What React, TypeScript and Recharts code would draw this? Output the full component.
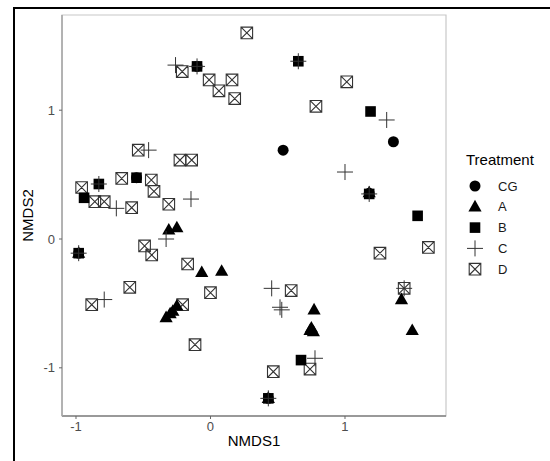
import * as React from "react";
import {
  ScatterChart,
  Scatter,
  XAxis,
  YAxis,
  ReferenceArea,
} from "recharts";

type Pt = { x: number; y: number };

// NMDS scores, one array per treatment
const cgPoints: Pt[] = [
  { x: 0.54, y: 0.69 },
  { x: 1.36, y: 0.755 },
  { x: -0.1, y: 1.34 },
  { x: -0.55, y: 0.476 },
  { x: -0.98, y: -0.11 },
  { x: 0.43, y: -1.237 },
  { x: 1.18, y: 0.355 },
];

const aPoints: Pt[] = [
  { x: -0.31, y: 0.07 },
  { x: -0.25, y: 0.088 },
  { x: -0.065, y: -0.26 },
  { x: 0.083, y: -0.25 },
  { x: -0.33, y: -0.61 },
  { x: -0.3, y: -0.58 },
  { x: -0.28, y: -0.56 },
  { x: -0.25, y: -0.52 },
  { x: 0.77, y: -0.55 },
  { x: 0.74, y: -0.71 },
  { x: 0.75, y: -0.69 },
  { x: 0.765, y: -0.72 },
  { x: 1.42, y: -0.47 },
  { x: 1.5, y: -0.71 },
  { x: -0.98, y: -0.11 },
  { x: 0.43, y: -1.237 },
  { x: 1.18, y: 0.36 },
];

const bPoints: Pt[] = [
  { x: -0.94, y: 0.32 },
  { x: -0.83, y: 0.427 },
  { x: 1.19, y: 0.99 },
  { x: 1.54, y: 0.18 },
  { x: 0.673, y: -0.94 },
  { x: -0.1, y: 1.34 },
  { x: 0.653, y: 1.38 },
  { x: -0.55, y: 0.476 },
  { x: -0.98, y: -0.11 },
  { x: 0.43, y: -1.237 },
  { x: 1.18, y: 0.35 },
];

const cPoints: Pt[] = [
  { x: -0.26, y: 1.35 },
  { x: -0.46, y: 0.69 },
  { x: -0.7, y: 0.238 },
  { x: -0.145, y: 0.31 },
  { x: -0.33, y: 0.0 },
  { x: -0.79, y: -0.47 },
  { x: 0.455, y: -0.383 },
  { x: 0.517, y: -0.53 },
  { x: 0.53, y: -0.55 },
  { x: 1.0, y: 0.52 },
  { x: 1.31, y: 0.924 },
  { x: 0.777, y: -0.926 },
  { x: 1.44, y: -0.383 },
  { x: -0.83, y: 0.427 },
  { x: -0.1, y: 1.34 },
  { x: 0.653, y: 1.38 },
  { x: -0.98, y: -0.11 },
  { x: 0.43, y: -1.237 },
  { x: 1.18, y: 0.35 },
];

const dPoints: Pt[] = [
  { x: 0.27, y: 1.6 },
  { x: -0.21, y: 1.3 },
  { x: -0.01, y: 1.235 },
  { x: 0.063, y: 1.15 },
  { x: 0.16, y: 1.235 },
  { x: 0.18, y: 1.09 },
  { x: -0.537, y: 0.69 },
  { x: -0.227, y: 0.613 },
  { x: -0.14, y: 0.613 },
  { x: -0.66, y: 0.47 },
  { x: -0.44, y: 0.458 },
  { x: -0.42, y: 0.37 },
  { x: -0.958, y: 0.4 },
  { x: -0.86, y: 0.29 },
  { x: -0.79, y: 0.29 },
  { x: -0.586, y: 0.243 },
  { x: -0.31, y: 0.27 },
  { x: -0.49, y: -0.054 },
  { x: -0.437, y: -0.124 },
  { x: -0.17, y: -0.194 },
  { x: -0.6, y: -0.375 },
  { x: -0.883, y: -0.51 },
  { x: 0.0, y: -0.417 },
  { x: -0.207, y: -0.51 },
  { x: -0.115, y: -0.82 },
  { x: 0.467, y: -1.03 },
  { x: 0.6, y: -0.4 },
  { x: 0.74, y: -1.01 },
  { x: 1.013, y: 1.22 },
  { x: 0.784, y: 1.03 },
  { x: 1.26, y: -0.11 },
  { x: 1.62, y: -0.065 },
  { x: 1.44, y: -0.383 },
];

const xTicks = [-1, 0, 1];
const yTicks = [-1, 0, 1];
const treatments = ["CG", "A", "B", "C", "D"];

const xDomain: [number, number] = [-1.104, 1.751];
const yDomain: [number, number] = [-1.374, 1.739];

const INK = "#000";
const LINE = "#333";

function Circle({ cx, cy }: any) {
  return <circle cx={cx} cy={cy} r={5.5} fill={INK} />;
}

function Triangle({ cx, cy }: any) {
  return (
    <path
      d={`M${cx},${cy - 7} L${cx - 6.6},${cy + 4.6} L${cx + 6.6},${cy + 4.6} Z`}
      fill={INK}
    />
  );
}

function Square({ cx, cy }: any) {
  return <rect x={cx - 5.3} y={cy - 5.3} width={10.6} height={10.6} fill={INK} />;
}

function Plus({ cx, cy }: any) {
  return (
    <path
      d={`M${cx - 8},${cy} H${cx + 8} M${cx},${cy - 8} V${cy + 8}`}
      stroke={LINE}
      strokeWidth={1}
      fill="none"
    />
  );
}

function BoxCross({ cx, cy }: any) {
  const h = 5.8;
  return (
    <path
      d={`M${cx - h},${cy - h} H${cx + h} V${cy + h} H${cx - h} Z M${cx - h},${cy - h} L${cx + h},${cy + h} M${cx + h},${cy - h} L${cx - h},${cy + h}`}
      stroke={LINE}
      strokeWidth={1.1}
      fill="none"
    />
  );
}

const shapes = [Circle, Triangle, Square, Plus, BoxCross];

function LegendBox() {
  return (
    <svg
      width={90}
      height={140}
      style={{ position: "absolute", left: 460, top: 145 }}
    >
      <text x={6} y={20} fontSize={15} fill="#000" fontFamily="Liberation Sans, Arial, sans-serif">
        Treatment
      </text>
      {treatments.map((t, i) => {
        const Shape = shapes[i];
        const cy = 41 + i * 20.8;
        return (
          <g key={t}>
            <Shape cx={15} cy={cy} />
            <text
              x={38}
              y={cy + 4.5}
              fontSize={13}
              fill="#1a1a1a"
              fontFamily="Liberation Sans, Arial, sans-serif"
            >
              {t}
            </text>
          </g>
        );
      })}
    </svg>
  );
}

export default function App() {
  const tickStyle = {
    fill: "#4d4d4d",
    fontSize: 13,
    fontFamily: "Liberation Sans, Arial, sans-serif",
  };
  return (
    <div
      style={{
        position: "absolute",
        left: 0,
        top: 0,
        width: 550,
        height: 461,
        background: "#fff",
        overflow: "hidden",
        fontFamily: "Liberation Sans, Arial, sans-serif",
      }}
    >
      <div
        style={{
          position: "absolute",
          left: 13,
          top: 7,
          width: 560,
          height: 470,
          borderTop: "2px solid #000",
          borderLeft: "2px solid #000",
        }}
      />
      <div style={{ position: "absolute", left: 0, top: 0 }}>
        <ScatterChart
          width={550}
          height={461}
          margin={{ top: 15, right: 104, bottom: 11, left: 10 }}
        >
          <ReferenceArea
            x1={xDomain[0]}
            x2={xDomain[1]}
            y1={yDomain[0]}
            y2={yDomain[1]}
            fill="none"
            stroke="#c8c8c8"
            strokeWidth={1.2}
          />
          <XAxis
            type="number"
            dataKey="x"
            domain={xDomain}
            ticks={xTicks}
            allowDataOverflow
            height={34}
            tick={tickStyle}
            tickSize={3}
            tickMargin={3}
            tickLine={{ stroke: "#666" }}
            axisLine={{ stroke: "#808080", strokeWidth: 1.6 }}
            label={{
              value: "NMDS1",
              position: "insideBottom",
              offset: 4,
              style: { fill: "#000", fontSize: 15 },
            }}
          />
          <YAxis
            type="number"
            dataKey="y"
            domain={yDomain}
            ticks={yTicks}
            allowDataOverflow
            width={52}
            tick={tickStyle}
            tickSize={3}
            tickMargin={4}
            tickLine={{ stroke: "#666" }}
            axisLine={{ stroke: "#a8a8a8", strokeWidth: 1.6 }}
            label={{
              value: "NMDS2",
              angle: -90,
              position: "insideLeft",
              offset: 18,
              style: { fill: "#000", fontSize: 15, textAnchor: "middle" },
            }}
          />
          <Scatter data={dPoints} shape={BoxCross} isAnimationActive={false} />
          <Scatter data={cgPoints} shape={Circle} isAnimationActive={false} />
          <Scatter data={aPoints} shape={Triangle} isAnimationActive={false} />
          <Scatter data={bPoints} shape={Square} isAnimationActive={false} />
          <Scatter data={cPoints} shape={Plus} isAnimationActive={false} />
        </ScatterChart>
      </div>
      <LegendBox />
    </div>
  );
}
